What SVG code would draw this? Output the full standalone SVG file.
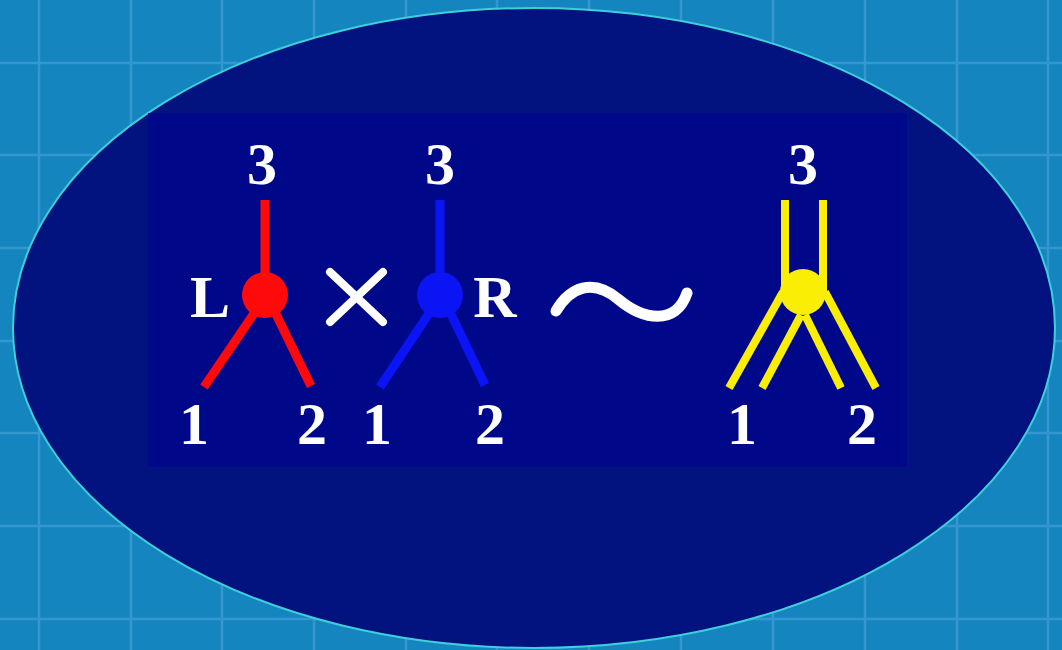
<svg xmlns="http://www.w3.org/2000/svg" width="1062" height="650" viewBox="0 0 1062 650">
<style>
.grid{stroke:#3597cf;stroke-width:2.5;fill:none}
.lbl{font-family:"Liberation Serif","Times New Roman",serif;font-weight:bold;font-size:60px;fill:#ffffff;text-anchor:middle}
.red{stroke:#ff0a0a;stroke-width:9;fill:none}
.blue{stroke:#0a14f5;stroke-width:9;fill:none}
.yel{stroke:#fbee05;stroke-width:8;fill:none}
.wht{stroke:#ffffff;fill:none;stroke-linecap:round}
</style>
<rect x="0" y="0" width="1062" height="650" fill="#1585c0"/>
<g id="grid">
<path class="grid" d="M39,0V650M131,0V650M222,0V650M314,0V650M406,0V650M497,0V650M589,0V650M681,0V650M773,0V650M865,0V650M957,0V650M1048,0V650"/>
<path class="grid" d="M0,63H1062M0,155H1062M0,248H1062M0,341H1062M0,433H1062M0,526H1062M0,619H1062"/>
</g>
<ellipse id="frame" cx="534" cy="328" rx="521" ry="320" fill="#02127f" stroke="#3fcfd9" stroke-width="2"/>
<rect id="panel" x="148" y="113" width="759" height="354" fill="#00088a"/>

<g id="vertexL">
<line class="red" x1="265" y1="200" x2="265" y2="290"/>
<line class="red" x1="255" y1="312" x2="204" y2="387"/>
<line class="red" x1="275" y1="312" x2="311" y2="386"/>
<circle cx="265" cy="295" r="23" fill="#ff0a0a"/>
<text class="lbl" x="262" y="184">3</text>
<text class="lbl" x="210" y="317">L</text>
<text class="lbl" x="194" y="444">1</text>
<text class="lbl" x="312" y="444">2</text>
</g>

<g id="times">
<path class="wht" stroke-width="8" stroke-linecap="butt" d="M330,272L383,322M383,272L330,322"/>
</g>

<g id="vertexR">
<line class="blue" x1="440" y1="200" x2="440" y2="290"/>
<line class="blue" x1="430" y1="312" x2="380" y2="387"/>
<line class="blue" x1="450" y1="312" x2="485" y2="385"/>
<circle cx="440" cy="295" r="23" fill="#0a14f5"/>
<text class="lbl" x="440" y="184">3</text>
<text class="lbl" x="495" y="317">R</text>
<text class="lbl" x="377" y="444">1</text>
<text class="lbl" x="490" y="444">2</text>
</g>

<g id="tilde">
<path class="wht" stroke-width="11" d="M556,311 C570,287 593,278 618,299 C643,320 676,326 687,293"/>
</g>

<g id="vertexSum">
<line class="yel" x1="785" y1="200" x2="785" y2="292"/>
<line class="yel" x1="823" y1="200" x2="823" y2="292"/>
<line class="yel" x1="783" y1="292" x2="729" y2="388"/>
<line class="yel" x1="825" y1="292" x2="876" y2="388"/>
<line class="yel" x1="801" y1="315" x2="762" y2="388"/>
<line class="yel" x1="805" y1="315" x2="841" y2="388"/>
<circle cx="803" cy="292" r="23" fill="#fbee05"/>
<text class="lbl" x="803" y="184">3</text>
<text class="lbl" x="742" y="444">1</text>
<text class="lbl" x="862" y="444">2</text>
</g>
</svg>
